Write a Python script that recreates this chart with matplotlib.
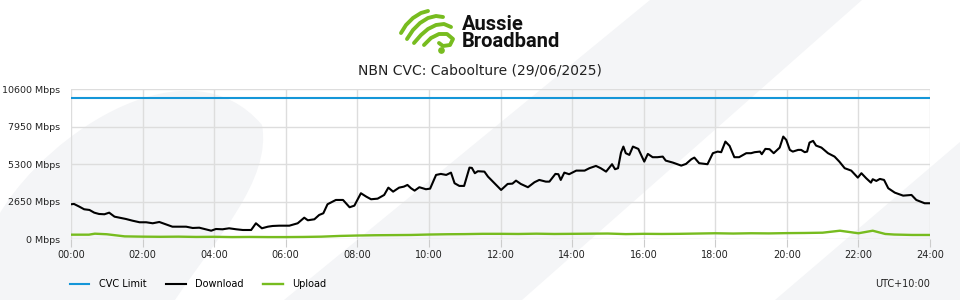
import matplotlib.pyplot as plt
from matplotlib.patches import Polygon, PathPatch
from matplotlib.path import Path
import numpy as np

# chart data
dl_minutes = [0, 5, 14, 22, 31, 39, 47, 56, 64, 73, 81, 92, 103, 115, 126, 137, 148, 159,
              170, 182, 193, 204, 215, 226, 235, 243, 254, 265, 277, 288, 302, 310, 320,
              330, 338, 349, 366, 380, 391, 397, 408, 416, 423, 430, 444, 456, 467, 475,
              486, 495, 503, 514, 525, 532, 540, 550, 558, 564, 570, 576, 584, 595, 602,
              612, 620, 629, 637, 643, 651, 659, 668, 672, 677, 682, 693, 699, 710, 721,
              732, 740, 746, 754, 766, 777, 785, 796, 802, 812, 817, 821, 827, 835, 847,
              855, 861, 869, 880, 888, 897, 907, 912, 917, 922, 926, 930, 936, 942, 951,
              961, 967, 975, 983, 992, 997, 1009, 1023, 1031, 1040, 1045, 1053, 1067, 1076,
              1084, 1090, 1097, 1104, 1112, 1120, 1132, 1140, 1146, 1155, 1158, 1164, 1171,
              1178, 1188, 1194, 1199, 1205, 1210, 1219, 1224, 1230, 1234, 1238, 1244, 1249,
              1258, 1269, 1280, 1288, 1297, 1308, 1319, 1325, 1333, 1341, 1344, 1350, 1356,
              1363, 1370, 1381, 1395, 1409, 1417, 1431, 1440]
dl_mbps = [2471, 2492, 2301, 2117, 2067, 1876, 1784, 1763, 1876, 1593, 1522, 1430, 1310, 1197,
           1197, 1126, 1218, 1055, 885, 885, 885, 793, 814, 701, 602, 722, 701, 772, 701, 651,
           651, 1126, 772, 885, 935, 956, 956, 1126, 1522, 1338, 1409, 1713, 1834, 2471, 2775,
           2775, 2259, 2372, 3250, 3009, 2825, 2867, 3129, 3646, 3363, 3646, 3717, 3837, 3604,
           3434, 3675, 3533, 3575, 4545, 4616, 4545, 4708, 3958, 3767, 3767, 5062, 5041, 4666,
           4807, 4779, 4425, 3958, 3483, 3908, 3929, 4142, 3908, 3675, 4029, 4191, 4071, 4071,
           4616, 4595, 4191, 4708, 4595, 4850, 4850, 4850, 5020, 5183, 5020, 4779, 5303, 4949,
           5020, 6124, 6549, 6082, 5961, 6549, 6386, 5487, 6032, 5799, 5799, 5841, 5558, 5416,
           5204, 5324, 5657, 5770, 5374, 5303, 6082, 6195, 6153, 6903, 6599, 5799, 5799, 6082,
           6082, 6153, 6195, 6011, 6386, 6365, 6082, 6478, 7257, 7023, 6315, 6195, 6315, 6315,
           6153, 6195, 6832, 6953, 6620, 6478, 6082, 5841, 5487, 5020, 4850, 4354, 4666, 4312,
           4000, 4241, 4121, 4262, 4191, 3604, 3292, 3080, 3129, 2775, 2542, 2542]

ul_minutes = [0, 30, 40, 60, 90, 120, 150, 180, 210, 240, 270, 300, 330, 360, 390, 420, 450,
              480, 510, 540, 570, 600, 630, 660, 690, 720, 750, 780, 810, 840, 870, 900, 930,
              960, 990, 1020, 1050, 1080, 1110, 1140, 1170, 1200, 1230, 1260, 1289, 1320,
              1344, 1365, 1380, 1410, 1440]
ul_mbps = [320, 320, 390, 350, 200, 180, 170, 180, 160, 170, 150, 160, 150, 150, 160, 180, 230,
           260, 280, 290, 300, 330, 350, 360, 380, 380, 370, 390, 370, 380, 390, 400, 360,
           380, 370, 380, 400, 420, 400, 420, 410, 430, 440, 460, 600, 420, 600, 370, 330,
           300, 300]

cvc_limit = 10000
y_ticks = [0, 2650, 5300, 7950, 10600]
x_ticks = list(range(0, 1441, 120))
x_labels = [f"{m // 60:02d}:00" for m in x_ticks]

blue = "#1496d8"
green = "#77bc1f"
bg_grey = "#f4f5f7"

fig = plt.figure(figsize=(9.6, 3.0), dpi=100)

# background decoration + logo in pixel coords
bg = fig.add_axes([0, 0, 1, 1], zorder=-1)
bg.set_xlim(0, 960)
bg.set_ylim(300, 0)
bg.axis("off")

leaf = Path([(0, 300), (0, 213), (50, 130), (190, 40), (262, 125),
             (272, 180), (215, 240), (175, 300), (0, 300)],
            [Path.MOVETO, Path.LINETO, Path.CURVE4, Path.CURVE4, Path.CURVE4,
             Path.CURVE4, Path.CURVE4, Path.CURVE4, Path.CLOSEPOLY])
bg.add_patch(PathPatch(leaf, fc=bg_grey, ec="none"))
bg.add_patch(Polygon([(284, 300), (650, 0), (862, 0), (522, 300)], fc=bg_grey, ec="none"))
bg.add_patch(Polygon([(775, 300), (960, 142), (960, 300)], fc=bg_grey, ec="none"))

strokes = [
    [(401, 33), (406, 25), (413, 18), (421, 13), (428, 11)],
    [(407, 39), (413, 30), (420, 23), (428, 18), (436, 16), (443, 17)],
    [(414, 43), (421, 35), (428, 29), (436, 25), (444, 24), (451, 27)],
    [(424, 45), (431, 38), (439, 34), (447, 34), (453, 39), (450, 45), (443, 46), (439, 43)],
]
for s in strokes:
    xs, ys = zip(*s)
    bg.plot(xs, ys, color=green, lw=2.8, solid_capstyle="round", solid_joinstyle="round")
bg.plot([441], [50], "o", color=green, ms=3.8)
bg.text(462, 33, "Aussie\nBroadband", fontsize=14.5, fontfamily="Roboto", fontweight="bold",
        va="center", ha="left", linespacing=0.88, color="#111111")

fig.text(0.5, 1 - 70 / 300, "NBN CVC: Caboolture (29/06/2025)", ha="center", va="center",
         fontsize=10, color="#222222")

ax = fig.add_axes([71 / 960, 1 - 239.2 / 300, 859 / 960, 149.9 / 300])
ax.set_facecolor("none")

ax.axhline(cvc_limit, color=blue, lw=1.5, label="CVC Limit")
ax.plot(dl_minutes, dl_mbps, color="black", lw=1.5, label="Download")
ax.plot(ul_minutes, ul_mbps, color=green, lw=1.7, label="Upload")

ax.set_xlim(0, 1440)
ax.set_ylim(0, 10600)
ax.set_xticks(x_ticks, x_labels)
ax.set_yticks(y_ticks, [f"{v} Mbps" for v in y_ticks])
ax.grid(color="#dddddd", lw=1)
ax.set_axisbelow(True)
for sp in ax.spines.values():
    sp.set_visible(False)
ax.tick_params(axis="x", length=6, color="#cccccc", labelsize=7, pad=2, labelcolor="#222222")
ax.tick_params(axis="y", length=0, labelsize=6.8, pad=8, labelcolor="#222222")

fig.legend(loc="center left", bbox_to_anchor=(70 / 960, 1 - 284 / 300), ncol=3,
           frameon=False, fontsize=7, handlelength=2, handletextpad=1.0,
           columnspacing=2.0, borderpad=0, borderaxespad=0)
fig.text(930 / 960, 1 - 284 / 300, "UTC+10:00", ha="right", va="center", fontsize=7,
         color="#222222")

fig.savefig("out.png", dpi=100)
